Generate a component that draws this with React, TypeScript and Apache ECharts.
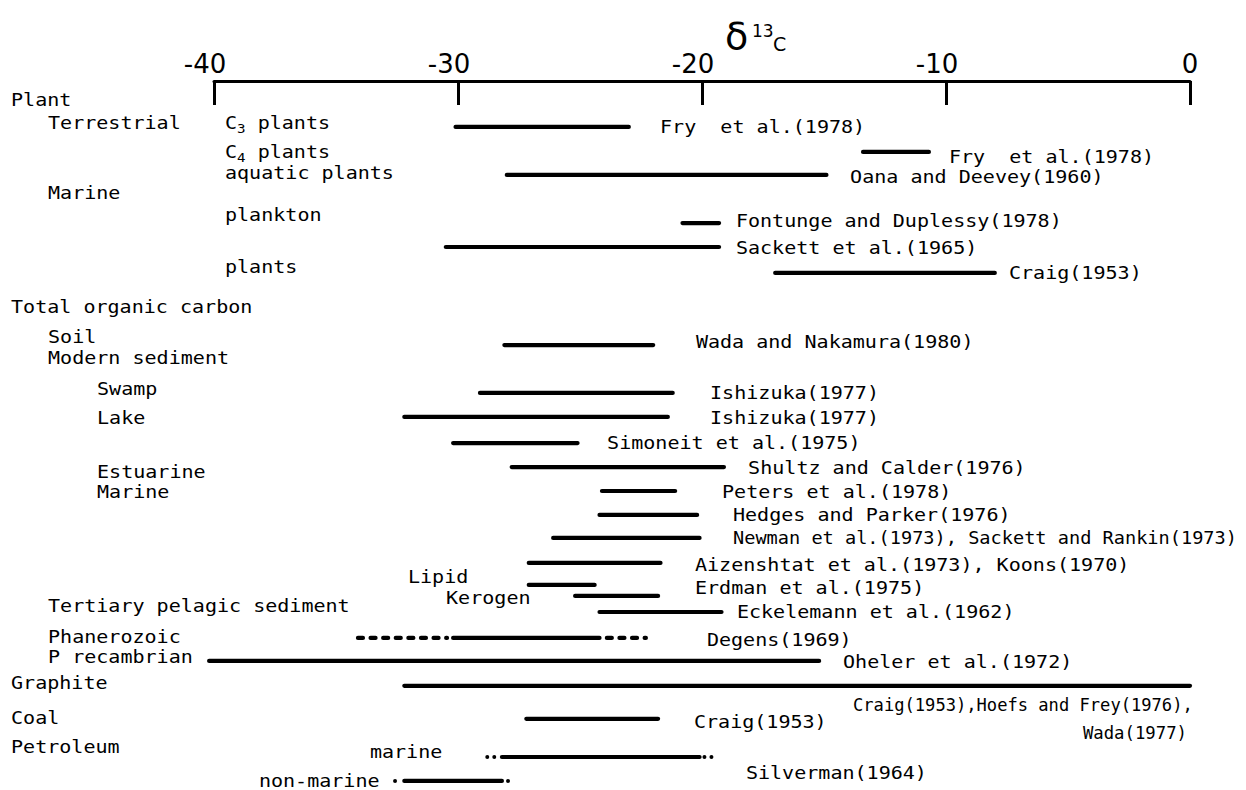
import { useEffect, useRef } from "react";
import * as echarts from "echarts";

// δ13C axis
const xMin = -40;
const xMax = 0;
const xStep = 10;

// left-hand group labels: [text, indent level, row]
const groupLabels: [string, number, number][] = [
  ["Plant", 0, 0.78],
  ["Terrestrial", 1, 1.72],
  ["Marine", 1, 4.58],
  ["Total organic carbon", 0, 9.24],
  ["Soil", 1, 10.47],
  ["Modern sediment", 1, 11.33],
  ["Swamp", 2, 12.6],
  ["Lake", 2, 13.78],
  ["Estuarine", 2, 15.99],
  ["Marine", 2, 16.81],
  ["Tertiary pelagic sediment", 1, 21.47],
  ["Phanerozoic", 1, 22.74],
  ["P recambrian", 1, 23.56],
  ["Graphite", 0, 24.62],
  ["Coal", 0, 26.05],
  ["Petroleum", 0, 27.24],
];

// sample labels inside the plot: [text, δ13C anchor, row]
const sampleLabels: [string, number, number][] = [
  ["C{s|3}{b| plants}", -39.55, 1.72],
  ["C{s|4}{b| plants}", -39.55, 2.9],
  ["aquatic plants", -39.55, 3.76],
  ["plankton", -39.55, 5.48],
  ["plants", -39.55, 7.61],
  ["Lipid", -32.05, 20.29],
  ["Kerogen", -30.49, 21.15],
  ["marine", -33.61, 27.44],
  ["non-marine", -38.16, 28.63],
];

// measured δ13C ranges: [from, to, row]
const solidRanges: [number, number, number][] = [
  [-30.1, -23.0, 1.88],
  [-13.4, -10.7, 2.9],
  [-28.0, -14.9, 3.84],
  [-20.8, -19.3, 5.81],
  [-30.5, -19.3, 6.79],
  [-17.0, -8.0, 7.85],
  [-28.1, -22.0, 10.8],
  [-29.1, -21.2, 12.76],
  [-32.2, -21.4, 13.74],
  [-30.2, -25.1, 14.81],
  [-27.8, -19.1, 15.79],
  [-24.1, -21.1, 16.77],
  [-24.2, -20.2, 17.75],
  [-26.1, -20.1, 18.69],
  [-27.1, -21.7, 19.71],
  [-27.1, -24.4, 20.61],
  [-25.2, -21.8, 21.06],
  [-24.2, -19.2, 21.72],
  [-30.2, -24.2, 22.78],
  [-40.2, -15.2, 23.72],
  [-32.2, 0.0, 24.74],
  [-27.2, -21.8, 26.09],
  [-28.2, -20.1, 27.65],
  [-32.2, -28.2, 28.63],
];

// uncertain extensions (dashed): [from, to, row]
const uncertainRanges: [number, number, number][] = [
  [-34.1, -30.45, 22.78],
  [-23.9, -22.3, 22.78],
];

// trace extensions (dotted): [from, to, row]
const traceRanges: [number, number, number][] = [
  [-28.8, -28.5, 27.65],
  [-19.9, -19.6, 27.65],
  [-32.58, -32.56, 28.63],
  [-27.95, -27.93, 28.63],
];

// references: [text, δ13C start, row, δ13C end (optional)]
const references: [string, number, number, number?][] = [
  ["Fry  et al.(1978)", -21.72, 1.88],
  ["Fry  et al.(1978)", -9.88, 3.11],
  ["Oana and Deevey(1960)", -13.93, 3.93],
  ["Fontunge and Duplessy(1978)", -18.61, 5.73],
  ["Sackett et al.(1965)", -18.61, 6.83],
  ["Craig(1953)", -7.42, 7.85],
  ["Wada and Nakamura(1980)", -20.25, 10.67],
  ["Ishizuka(1977)", -19.67, 12.76],
  ["Ishizuka(1977)", -19.67, 13.78],
  ["Simoneit et al.(1975)", -23.89, 14.81],
  ["Shultz and Calder(1976)", -18.11, 15.83],
  ["Peters et al.(1978)", -19.18, 16.81],
  ["Hedges and Parker(1976)", -18.73, 17.75],
  ["Newman et al.(1973), Sackett and Rankin(1973)", -18.73, 18.69, 1.93],
  ["Aizenshtat et al.(1973), Koons(1970)", -20.29, 19.8],
  ["Erdman et al.(1975)", -20.29, 20.74],
  ["Eckelemann et al.(1962)", -18.57, 21.72],
  ["Degens(1969)", -19.8, 22.86],
  ["Oheler et al.(1972)", -14.22, 23.76],
  ["Craig(1953),Hoefs and Frey(1976),", -13.81, 25.52, 0.12],
  ["Craig(1953)", -20.33, 26.22],
  ["Wada(1977)", -4.39, 26.67, -0.12],
  ["Silverman(1964)", -18.2, 28.3],
];

const MONO = '"DejaVu Sans Mono", "Liberation Mono", monospace';
const FONT_SIZE = 17;
const CHAR_W = FONT_SIZE * 0.602;
const STRETCH = 1.18;
const LEVEL_X = [11, 48, 97];

function textEl(x: number, y: number, text: string, sx: number, rich?: any) {
  return {
    type: "text",
    x,
    y,
    scaleX: sx,
    silent: true,
    style: {
      text,
      fill: "#000",
      font: `${FONT_SIZE}px ${MONO}`,
      align: "left",
      verticalAlign: "middle",
      ...(rich ? { rich } : {}),
    },
  };
}

export default function App() {
  const ref = useRef<HTMLDivElement>(null);

  useEffect(() => {
    if (!ref.current) return;
    const chart = echarts.init(ref.current, undefined, { renderer: "svg" });

    const rangeData = [
      ...solidRanges.map((r) => [r[0], r[1], r[2], 0]),
      ...uncertainRanges.map((r) => [r[0], r[1], r[2], 1]),
      ...traceRanges.map((r) => [r[0], r[1], r[2], 2]),
    ];

    const subRich = {
      b: { fontSize: FONT_SIZE, fontFamily: MONO, lineHeight: 24, verticalAlign: "middle" },
      s: { fontSize: 12, fontFamily: MONO, lineHeight: 10, verticalAlign: "bottom" },
    };

    const option: any = {
      animation: false,
      backgroundColor: "#ffffff",
      grid: { left: 214, right: 56, top: 81, bottom: 0, containLabel: false },
      xAxis: {
        type: "value",
        position: "top",
        min: xMin,
        max: xMax,
        interval: xStep,
        splitLine: { show: false },
        axisLine: { show: true, onZero: false, lineStyle: { color: "#000", width: 3 } },
        axisTick: { show: true, inside: true, length: 24, lineStyle: { color: "#000", width: 3 } },
        axisLabel: {
          margin: 4,
          formatter: (v: number) => (v < 0 ? `{n|${v}}` : `{z|${v}}`),
          rich: {
            n: { fontSize: 26, fontFamily: '"DejaVu Sans"', color: "#000", padding: [0, 18, 0, 0] },
            z: { fontSize: 26, fontFamily: '"DejaVu Sans"', color: "#000" },
          },
        },
      },
      yAxis: { type: "value", inverse: true, min: 0, max: 29, show: false },
      graphic: [
        {
          type: "text",
          x: 725,
          y: 36,
          style: { text: "δ", font: '38px "DejaVu Sans"', fill: "#000", verticalAlign: "middle" },
        },
        {
          type: "text",
          x: 752,
          y: 31,
          style: { text: "13", font: '17px "DejaVu Sans"', fill: "#000", verticalAlign: "middle" },
        },
        {
          type: "text",
          x: 773,
          y: 44,
          style: { text: "C", font: '19px "DejaVu Sans"', fill: "#000", verticalAlign: "middle" },
        },
      ],
      series: [
        {
          type: "custom",
          name: "ranges",
          clip: false,
          silent: true,
          encode: { x: [0, 1], y: 2 },
          data: rangeData,
          renderItem: (params: any, api: any) => {
            const a = api.coord([api.value(0), api.value(2)]);
            const b = api.coord([api.value(1), api.value(2)]);
            const kind = api.value(3);
            const style: any = { stroke: "#000", lineWidth: kind === 2 ? 4 : 4.2, lineCap: "round" };
            if (kind === 1) style.lineDash = [5, 7.6];
            if (kind === 2) style.lineDash = [0, 7];
            return { type: "line", shape: { x1: a[0], y1: a[1], x2: b[0], y2: b[1] }, style };
          },
        },
        {
          type: "custom",
          name: "references",
          clip: false,
          silent: true,
          encode: { x: 0, y: 1 },
          data: references.map((r) => [r[1], r[2]]),
          renderItem: (params: any, api: any) => {
            const r = references[params.dataIndex];
            const p = api.coord([r[1], r[2]]);
            let sx = STRETCH;
            if (r[3] !== undefined) {
              const e = api.coord([r[3], r[2]]);
              sx = (e[0] - p[0]) / (r[0].length * CHAR_W);
            }
            return textEl(p[0], p[1], r[0], sx);
          },
        },
        {
          type: "custom",
          name: "samples",
          clip: false,
          silent: true,
          encode: { x: 0, y: 1 },
          data: sampleLabels.map((r) => [r[1], r[2]]),
          renderItem: (params: any, api: any) => {
            const r = sampleLabels[params.dataIndex];
            const p = api.coord([r[1], r[2]]);
            const isRich = r[0].indexOf("{") >= 0;
            return textEl(p[0], p[1], r[0], STRETCH, isRich ? subRich : undefined);
          },
        },
        {
          type: "custom",
          name: "groups",
          clip: false,
          silent: true,
          encode: { y: 1 },
          data: groupLabels.map((g) => [g[1], g[2]]),
          renderItem: (params: any, api: any) => {
            const g = groupLabels[params.dataIndex];
            const p = api.coord([xMin, g[2]]);
            return textEl(LEVEL_X[g[1]], p[1], g[0], STRETCH);
          },
        },
      ],
    };

    chart.setOption(option);
    return () => chart.dispose();
  }, []);

  return (
    <div
      ref={ref}
      style={{ position: "fixed", left: 0, top: 0, width: 1246, height: 790, background: "#fff" }}
    />
  );
}
